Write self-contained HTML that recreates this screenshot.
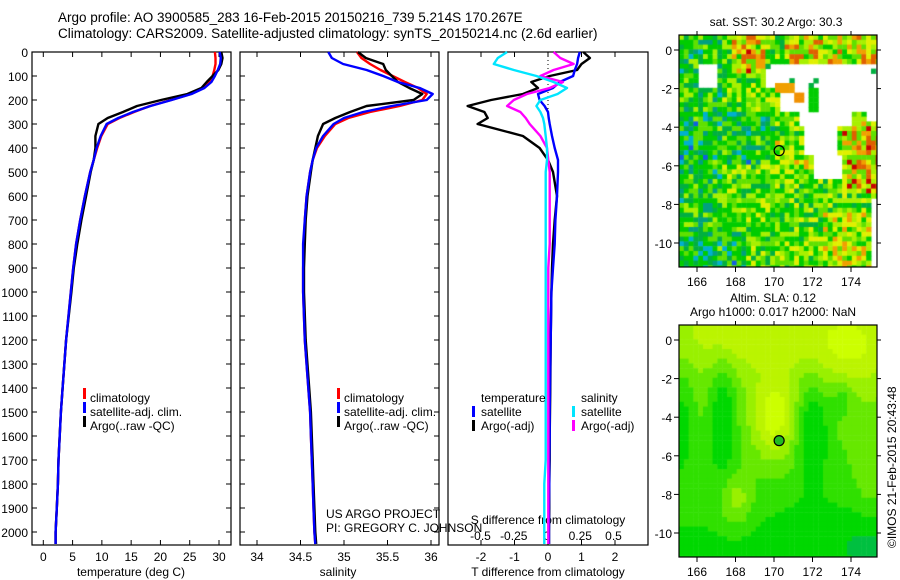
<!DOCTYPE html>
<html><head><meta charset="utf-8">
<style>
html,body{margin:0;padding:0;background:#fff;}
#root{position:relative;width:900px;height:580px;overflow:hidden;font-family:"Liberation Sans",sans-serif;}
svg text{font-family:"Liberation Sans",sans-serif;fill:#000;}
canvas{position:absolute;}
</style></head>
<body>
<div id="root">
<canvas id="sst" style="left:679px;top:35px" width="198" height="232"></canvas>
<canvas id="sla" style="left:679px;top:325px" width="198" height="232"></canvas>
<svg id="fig" width="900" height="580" style="position:absolute;left:0;top:0" xmlns="http://www.w3.org/2000/svg">
<text x="58" y="22" font-size="13.5">Argo profile: AO 3900585_283 16-Feb-2015 20150216_739 5.214S 170.267E</text>
<text x="58" y="38" font-size="13.5">Climatology: CARS2009. Satellite-adjusted climatology: synTS_20150214.nc (2.6d earlier)</text>
<text x="776" y="26" font-size="12" text-anchor="middle">sat. SST: 30.2 Argo: 30.3</text>
<text x="773" y="302" font-size="12" text-anchor="middle">Altim. SLA: 0.12</text>
<text x="773" y="316" font-size="12" text-anchor="middle">Argo h1000: 0.017 h2000: NaN</text>
<text x="0" y="0" font-size="12" transform="translate(896,548) rotate(-90)">©IMOS 21-Feb-2015 20:43:48</text>
<text x="326" y="518" font-size="12">US ARGO PROJECT</text>
<text x="326" y="532" font-size="12">PI: GREGORY C. JOHNSON</text>
<g id="plots"></g>
</svg>
</div>
<script>
// ---------- data ----------
const depths = [0,25,50,75,100,125,150,175,200,225,250,275,300,350,400,450,500,600,700,800,900,1000,1200,1400,1500,1600,1700,1800,1900,2000,2050];
const tempClim = [29.3,29.4,29.4,29.2,28.9,28.4,27.3,25.2,21.8,18.2,15.5,13.0,11.0,9.9,9.2,8.6,8.0,7.1,6.3,5.6,5.1,4.7,3.9,3.3,3.0,2.8,2.6,2.5,2.3,2.1,2.1];
const tempSat  = [30.1,30.3,30.2,29.8,29.3,28.7,27.5,25.3,21.9,18.3,15.3,12.8,10.8,9.8,9.1,8.6,8.0,7.1,6.3,5.6,5.1,4.7,3.9,3.3,3.0,2.8,2.6,2.5,2.3,2.1,2.1];
const tempArgo = [30.4,30.6,30.4,29.9,28.9,27.9,27.0,24.6,20.1,16.0,13.6,11.0,9.4,8.9,8.9,8.6,8.1,7.3,6.5,5.8,5.2,4.8,3.9,3.3,3.0,2.8,2.6,2.5,2.3,2.1,2.1];
const salClim = [35.15,35.2,35.3,35.42,35.56,35.7,35.85,35.95,35.9,35.64,35.3,35.05,34.9,34.78,34.69,34.64,34.61,34.57,34.55,34.54,34.53,34.53,34.55,34.59,34.61,34.62,34.63,34.64,34.65,34.66,34.67];
const salSat  = [34.82,34.86,34.99,35.26,35.45,35.62,35.87,36.02,35.95,35.55,35.22,35.0,34.88,34.76,34.68,34.64,34.61,34.57,34.55,34.53,34.53,34.53,34.55,34.59,34.61,34.62,34.63,34.64,34.65,34.66,34.67];
const salArgo = [35.16,35.25,35.45,35.48,35.55,35.62,35.75,35.9,35.8,35.26,35.07,34.9,34.76,34.7,34.67,34.64,34.62,34.58,34.56,34.55,34.54,34.54,34.56,34.6,34.62,34.63,34.64,34.65,34.66,34.67,34.68];
const dTSat  = [0.95,0.9,0.87,0.8,0.75,0.35,0.15,-0.3,-0.25,-0.1,0,0.02,0.05,0.12,0.2,0.3,0.3,0.27,0.22,0.2,0.15,0.1,0.08,0.06,0.05,0.05,0.04,0.04,0.03,0.03,0.03];
const dTArgo = [1.05,1.25,1.0,0.87,0.05,-0.5,-0.3,-0.75,-1.7,-2.4,-1.9,-1.8,-2.1,-0.75,-0.25,0,0.15,0.27,0.2,0.15,0.12,0.1,0.08,0.07,0.06,0.05,0.05,0.04,0.04,0.03,0.03];
const dSSat  = [-0.3,-0.37,-0.4,-0.25,-0.08,0.05,0.15,0.08,-0.05,-0.08,-0.05,-0.03,-0.02,-0.01,0,0,-0.01,-0.01,-0.01,-0.01,-0.01,-0.01,-0.01,-0.01,-0.01,-0.01,-0.01,-0.02,-0.02,-0.02,-0.02];
const dSArgo = [0.05,0.1,0.2,0.05,-0.05,0.12,0.02,-0.15,-0.25,-0.3,-0.2,-0.16,-0.13,-0.05,0,0.01,0.02,0.02,0.02,0.02,0.01,0.01,0.01,0.01,0.01,0.01,0.01,0.01,0.01,0.01,0.01];
const depthTicks = [0,100,200,300,400,500,600,700,800,900,1000,1100,1200,1300,1400,1500,1600,1700,1800,1900,2000];
const tempTicks = [0,5,10,15,20,25,30];
const salTicks = [34,34.5,35,35.5,36];
const salTickLabels = ["34","34.5","35","35.5","36"];
const dTTicks = [-2,-1,0,1,2];
const dSTicks = [-0.5,-0.25,0,0.25,0.5];
const lonTicks = [166,168,170,172,174];
const latTicks = [0,-2,-4,-6,-8,-10];
const argoLon = 170.267, argoLat = -5.214;

// ---------- helpers ----------
const NS = "http://www.w3.org/2000/svg";
const G = document.getElementById('plots');
function mk(tag, attrs, parent){const e=document.createElementNS(NS,tag);for(const k in attrs)e.setAttribute(k,attrs[k]);(parent||G).appendChild(e);return e;}
const PT=52, PB=545;
const yD = d => 52 + d*0.24;
function lin(d0,d1,p0,p1){return v=>p0+(v-d0)*(p1-p0)/(d1-d0);}
const xT = lin(0,30,43.3,219);
const xS = lin(34,36,257,431);
const xDT = lin(0,1,548,581.5);
const xDS = lin(0,1,547,680);

function frame(x0,x1,name){
  const r=mk('rect',{x:x0,y:PT,width:x1-x0,height:PB-PT,fill:'none',stroke:'#000','stroke-width':1.2});
  
  
}
function series(vals,xf,color,name){
  const pts=vals.map((v,i)=>xf(v).toFixed(1)+','+yD(depths[i]).toFixed(1)).join(' ');
  const p=mk('polyline',{points:pts,fill:'none',stroke:color,'stroke-width':2.4,'stroke-linejoin':'round'});
  
  
}
function txt(x,y,s,size,anchor,name){
  const t=mk('text',{x:x,y:y,'font-size':size,'text-anchor':anchor||'start'});t.textContent=s;
  
  
  return t;
}
function legendMark(x,y,color,name){
  const r=mk('rect',{x:x,y:y-10,width:3,height:11,fill:color});
  
  
}

// ---------- panel 1: temperature ----------
frame(32,231,'temperature-plot-frame');
depthTicks.forEach(d=>{
  mk('line',{x1:32,x2:37,y1:yD(d),y2:yD(d),stroke:'#000'});
  mk('line',{x1:226,x2:231,y1:yD(d),y2:yD(d),stroke:'#000'});
  txt(28,yD(d)+5,String(d),12,'end','depth-tick-label');
});
tempTicks.forEach(v=>{
  mk('line',{x1:xT(v),x2:xT(v),y1:PB,y2:PB-5,stroke:'#000'});
  mk('line',{x1:xT(v),x2:xT(v),y1:PT,y2:PT+5,stroke:'#000'});
  txt(xT(v),561,String(v),12,'middle','temperature-tick-label');
});
txt(131,576,'temperature (deg C)',12,'middle','temperature-axis-title');
series(tempClim,xT,'#ff0000','temperature-climatology-line');
series(tempArgo,xT,'#000000','temperature-argo-line');
series(tempSat,xT,'#0000ff','temperature-satellite-line');
legendMark(83,398,'#ff0000','legend-climatology-marker');txt(90,402,'climatology',12,'start','legend-climatology');
legendMark(83,412,'#0000ff','legend-satellite-marker');txt(90,416,'satellite-adj. clim.',12,'start','legend-satellite');
legendMark(83,426,'#000000','legend-argo-marker');txt(90,430,'Argo(..raw -QC)',12,'start','legend-argo');

// ---------- panel 2: salinity ----------
frame(240,439,'salinity-plot-frame');
depthTicks.forEach(d=>{
  mk('line',{x1:240,x2:245,y1:yD(d),y2:yD(d),stroke:'#000'});
  mk('line',{x1:434,x2:439,y1:yD(d),y2:yD(d),stroke:'#000'});
});
salTicks.forEach((v,i)=>{
  mk('line',{x1:xS(v),x2:xS(v),y1:PB,y2:PB-5,stroke:'#000'});
  mk('line',{x1:xS(v),x2:xS(v),y1:PT,y2:PT+5,stroke:'#000'});
  txt(xS(v),561,salTickLabels[i],12,'middle','salinity-tick-label');
});
txt(338,576,'salinity',12,'middle','salinity-axis-title');
series(salClim,xS,'#ff0000','salinity-climatology-line');
series(salArgo,xS,'#000000','salinity-argo-line');
series(salSat,xS,'#0000ff','salinity-satellite-line');
legendMark(337,398,'#ff0000','legend2-climatology-marker');txt(344,402,'climatology',12,'start','legend2-climatology');
legendMark(337,412,'#0000ff','legend2-satellite-marker');txt(344,416,'satellite-adj. clim.',12,'start','legend2-satellite');
legendMark(337,426,'#000000','legend2-argo-marker');txt(344,430,'Argo(..raw -QC)',12,'start','legend2-argo');

// ---------- panel 3: differences ----------
frame(448,648,'difference-plot-frame');
mk('line',{x1:548,x2:548,y1:PT,y2:120,stroke:'#000','stroke-dasharray':'1,3'});
dTTicks.forEach(v=>{
  mk('line',{x1:xDT(v),x2:xDT(v),y1:PB,y2:PB-5,stroke:'#000'});
  mk('line',{x1:xDT(v),x2:xDT(v),y1:PT,y2:PT+5,stroke:'#000'});
  txt(xDT(v),561,String(v),12,'middle','t-diff-tick-label');
});
dSTicks.forEach(v=>{
  txt(xDS(v),540,String(v),12,'middle','s-diff-tick-label');
});
txt(548,576,'T difference from climatology',12,'middle','t-diff-axis-title');
txt(548,524,'S difference from climatology',12,'middle','s-diff-axis-title');
series(dTArgo,xDT,'#000000','t-diff-argo-line');
series(dTSat,xDT,'#0000ff','t-diff-satellite-line');
series(dSArgo,xDS,'#ff00ff','s-diff-argo-line');
series(dSSat,xDS,'#00e5ff','s-diff-satellite-line');
txt(481,402,'temperature',12,'start','legend3-temperature-heading');
legendMark(472,416,'#0000ff','legend3-t-satellite-marker');txt(481,416,'satellite',12,'start','legend3-t-satellite');
legendMark(472,430,'#000000','legend3-t-argo-marker');txt(481,430,'Argo(-adj)',12,'start','legend3-t-argo');
txt(581,402,'salinity',12,'start','legend3-salinity-heading');
legendMark(572,416,'#00e5ff','legend3-s-satellite-marker');txt(581,416,'satellite',12,'start','legend3-s-satellite');
legendMark(572,430,'#ff00ff','legend3-s-argo-marker');txt(581,430,'Argo(-adj)',12,'start','legend3-s-argo');

// ---------- maps ----------
const xLon = lin(166,174,697,851);
function mapAxes(top,lat0y,name,circleFill){
  const yLat = lin(0,-10,lat0y,lat0y+193);
  const r=mk('rect',{x:679,y:top,width:198,height:232,fill:'none',stroke:'#000','stroke-width':1.2});
  
  
  lonTicks.forEach(v=>{
    mk('line',{x1:xLon(v),x2:xLon(v),y1:top+232,y2:top+237,stroke:'#000'});
    mk('line',{x1:xLon(v),x2:xLon(v),y1:top,y2:top-4,stroke:'#000'});
    txt(xLon(v),top+251,String(v),12,'middle','longitude-tick-label');
  });
  latTicks.forEach(v=>{
    mk('line',{x1:674,x2:679,y1:yLat(v),y2:yLat(v),stroke:'#000'});
    mk('line',{x1:877,x2:881,y1:yLat(v),y2:yLat(v),stroke:'#000'});
    txt(672,yLat(v)+5,String(v),12,'end','latitude-tick-label');
  });
  const c=mk('circle',{cx:xLon(argoLon),cy:yLat(argoLat),r:5,fill:circleFill,stroke:'#000','stroke-width':1.2});
  
  
}
mapAxes(35,50,'sst-map-frame','none');
mapAxes(325,340,'sla-map-frame','#22bb22');

function hash(i,j){let h=(i*374761393+j*668265263)^0x5bd1e995;h=Math.imul(h^(h>>>13),1274126177);h=h^(h>>>16);return ((h>>>0)%1000)/1000;}
// SST raster texture
(function(){
  const c=document.getElementById('sst').getContext('2d');
  const cs=4.8;
  for(let i=0;i<42;i++)for(let j=0;j<49;j++){
    const px=i*cs,py=j*cs;
    const lo=166+(px+2+679-697)/19.25, la=-(py+2+35-50)/19.3;
    const r=hash(i,j);
    let white=false;
    if(la<-0.6&&la>-1.9&&lo>166&&lo<167) white=true;
    if(la<-0.7&&la>-1.9&&lo>169.5) white=r>0.03;
    if(la<=-1.9&&la>-3.2&&lo>170.2) white=true;
    if(la<=-3.2&&la>-4&&lo>171.2&&lo<174) white=true;
    if(la<=-4&&la>-5.5&&lo>171.5&&lo<173.2) white=true;
    if(la<=-5.5&&la>-6.6&&lo>172&&lo<173.6) white=true;
    if(la<-2.5&&la>-3.6&&lo>174.8) white=true;
    if(la<-7.6&&lo>175.1) white=true;
    let special=null;
    if(la<-1.6&&la>-2.3&&lo>170.1&&lo<171) special='#f0a000';
    if(la<-2.2&&la>-2.8&&lo>171&&lo<171.6) special='#f09000';
    if(la<-1.9&&la>-2.8&&lo>171.7&&lo<172.4) special='#00cc00';
    if(la<-2.7&&la>-3.2&&lo>171.8&&lo<172.2) special='#00cc00';
    if(special){c.fillStyle=special;c.fillRect(px,py,cs+0.5,cs+0.5);continue;}
    if(white)continue;
    let warm=0;
    if(la>-1.3&&lo>167.8&&lo<169.6)warm=0.4;
    if(la<-3.8&&la>-7.3&&lo>173.5)warm=0.45;
    if(la>-0.9&&lo>170.5)warm=0.3;
    if(la<-4.5&&la>-7&&lo>169&&lo<172)warm=0.15;
    if(la<-8.5&&lo>172.5)warm=0.2;
    let cool=0;
    if(la<-3.3&&la>-6&&lo<170)cool=0.3;
    if(lo<167.2)cool=Math.max(cool,0.2);
    if(la<-9.5&&lo<168.5)cool=0.3;
    const v=r*0.95+warm-cool;
    let col;
    if(v>1.3)col='#c80000';else if(v>1.15)col='#e06000';else if(v>1.02)col='#f0a000';
    else if(v>0.82)col='#e0f000';else if(v>0.62)col='#a8f000';else if(v>0.42)col='#60e000';
    else if(v>0.12)col='#00cc00';else if(v>-0.05)col='#00b040';else if(v>-0.17)col='#00a080';else if(v>-0.26)col='#00b0d0';else col='#1060e0';
    c.fillStyle=col;c.fillRect(px,py,cs+0.5,cs+0.5);
  }
})();
// SLA raster texture
(function(){
  const c=document.getElementById('sla').getContext('2d');
  const blobs=[[170,-4,0.8,1.6,0.45],[169,0,2.5,1,0.2],[174,-0.5,1.5,1.5,0.25],[168,-8.3,0.6,0.9,0.3],[175,-7,0.6,1.5,0.15],
    [167.3,-4,0.5,2,-0.35],[172,-4.5,0.6,1.8,-0.35],[173.5,-3,0.4,0.7,-0.2],[165.2,-4,0.5,2,-0.25],[175,-10.5,1.2,1,-0.15],[172,-10,1.5,1.2,-0.1]];
  const cs=4.8;
  for(let px=0;px<198;px+=cs)for(let py=0;py<232;py+=cs){
    const lo=166+(px+2+679-697)/19.25, la=-(py+2+325-340)/19.3;
    let v=0.62+0.035*la;
    blobs.forEach(b=>{v+=b[4]*Math.exp(-((lo-b[0])**2/(2*b[2]*b[2])+(la-b[1])**2/(2*b[3]*b[3])));});
    let col;
    if(v<0.12)col='#00c040';else if(v<0.28)col='#00d800';else if(v<0.42)col='#30e000';
    else if(v<0.56)col='#66e800';else if(v<0.7)col='#99f000';else if(v<0.84)col='#bbf400';else col='#ccff00';
    c.fillStyle=col;c.fillRect(px,py,cs+0.5,cs+0.5);
  }
})();
</script>
</body></html>
